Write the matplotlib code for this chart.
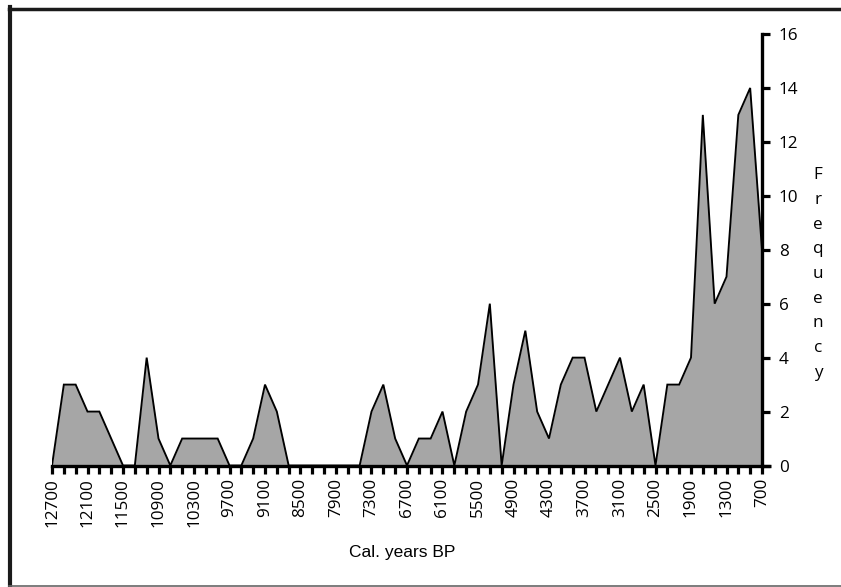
import matplotlib
matplotlib.use("Agg")
import matplotlib.pyplot as plt
from matplotlib.lines import Line2D

# Calibrated years BP, every 200 years from 12700 to 700
years = list(range(12700, 699, -200))
frequency = [0, 3, 3, 2, 2, 1, 0, 0, 4, 1,
             0, 1, 1, 1, 1, 0, 0, 1, 3, 2,
             0, 0, 0, 0, 0, 0, 0, 2, 3, 1,
             0, 1, 1, 2, 0, 2, 3, 6, 0, 3,
             5, 2, 1, 3, 4, 4, 2, 3, 4, 2,
             3, 0, 3, 3, 4, 13, 6, 7, 13, 14,
             8]
label_years = list(range(12700, 699, -600))
y_ticks = [0, 2, 4, 6, 8, 10, 12, 14, 16]

tick_font = "Open Sans"

fig = plt.figure(figsize=(8.41, 5.87), dpi=100)
W, H = 841, 587
ax = fig.add_axes([52 / W, 1 - 465.5 / H, (762 - 52) / W, (465.5 - 34) / H])

ax.fill_between(years, frequency, 0, color="#a6a6a6", lw=0, zorder=1)
ax.plot(years, frequency, color="black", lw=1.35, zorder=2, solid_joinstyle="miter")

ax.set_xlim(12700, 700)
ax.set_ylim(0, 16)

for s in ("left", "top"):
    ax.spines[s].set_visible(False)
ax.spines["bottom"].set_linewidth(2.4)
ax.spines["right"].set_linewidth(2.4)
ax.spines["bottom"].set_zorder(3)
ax.spines["right"].set_zorder(3)

# x-axis extends a little past the frequency axis
ax.plot([700, 550], [0, 0], color="black", lw=2.4, clip_on=False,
        solid_capstyle="butt", zorder=3)

ax.set_xticks(years, minor=True)
ax.set_xticks(label_years)
ax.set_xticklabels([str(y) for y in label_years], rotation=90,
                   fontfamily=tick_font, fontsize=12.3)
ax.tick_params(axis="x", which="both", direction="out", length=6, width=2.3,
               pad=3, color="black")

ax.yaxis.tick_right()
ax.set_yticks(y_ticks)
ax.set_yticklabels([str(v) for v in y_ticks], fontfamily=tick_font, fontsize=12.3)
ax.tick_params(axis="y", which="both", direction="out", length=6, width=2.3,
               pad=6, color="black")

fig.text(402 / W, 1 - 553 / H, "Cal. years BP", ha="center", va="center",
         fontfamily="Liberation Sans", fontsize=12.5)

fig.text(818 / W, 1 - 274 / H, "\n".join("Frequency"), ha="center", va="center",
         fontfamily=tick_font, fontsize=12.3, linespacing=1.72)

# outer frame
fig.add_artist(Line2D([10 / W, 10 / W], [0, 1 - 7 / H], color="#1a1a1a", lw=3,
                      transform=fig.transFigure))
fig.add_artist(Line2D([8.5 / W, 1], [1 - 9 / H, 1 - 9 / H], color="#1a1a1a", lw=2.5,
                      transform=fig.transFigure))
fig.add_artist(Line2D([8.5 / W, 1], [1 - 585.5 / H, 1 - 585.5 / H], color="#666666",
                      lw=1.2, transform=fig.transFigure))

fig.savefig("out.png", dpi=100, facecolor="white")
